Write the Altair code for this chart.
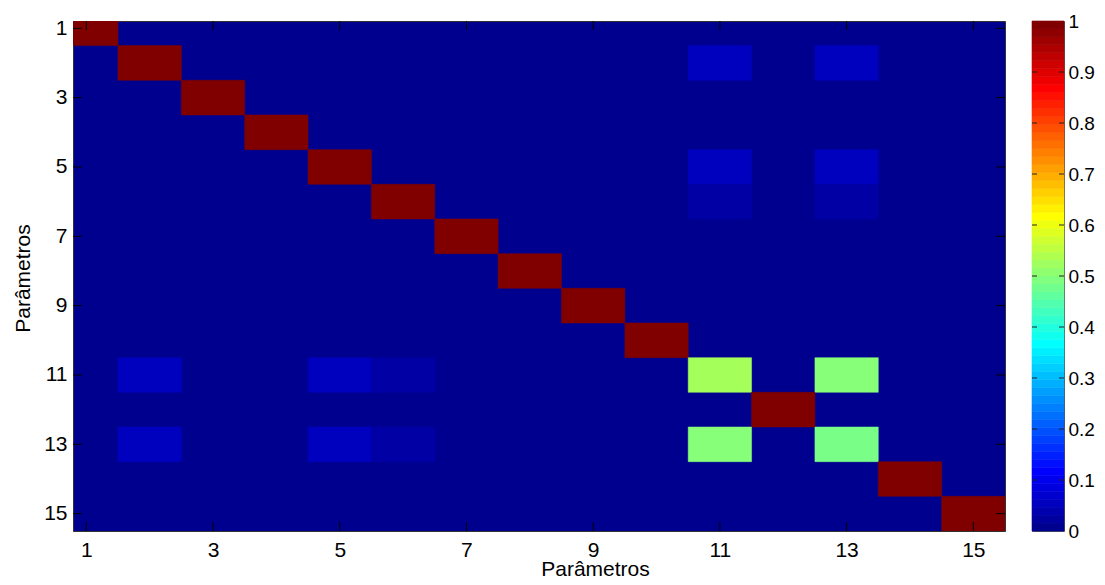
import altair as alt
import numpy as np
import pandas as pd

# ---------------- data ----------------
n_params = 15
tick_vals = [1, 3, 5, 7, 9, 11, 13, 15]
cbar_ticks = [0, 0.1, 0.2, 0.3, 0.4, 0.5, 0.6, 0.7, 0.8, 0.9, 1]
diag_values = [1, 1, 1, 1, 1, 1, 1, 1, 1, 1, 0.53, 1, 0.485, 1, 1]
# symmetric off-diagonal entries (row, col, value)
off_rows = [2, 2, 5, 5, 6, 6, 11]
off_cols = [11, 13, 11, 13, 11, 13, 13]
off_vals = [0.048, 0.048, 0.048, 0.048, 0.022, 0.022, 0.50]

M = np.zeros((n_params, n_params))
for i, d in enumerate(diag_values):
    M[i, i] = d
for r, c, v in zip(off_rows, off_cols, off_vals):
    M[r - 1, c - 1] = v
    M[c - 1, r - 1] = v

rows = []
for i in range(n_params):
    for j in range(n_params):
        rows.append({"row": i + 1, "col": j + 1, "v": float(M[i, j])})
df = pd.DataFrame(rows)
df["x0"] = df["col"] - 0.5
df["x1"] = df["col"] + 0.5
df["y0"] = df["row"] - 0.5
df["y1"] = df["row"] + 0.5
df_nz = df[df["v"] > 0].reset_index(drop=True)   # zero cells = background colour


# ---------------- MATLAB jet(64) palette ----------------
def jet(m=64):
    n = int(np.ceil(m / 4))
    u = np.concatenate([np.arange(1, n + 1) / n, np.ones(n - 1), np.arange(n, 0, -1) / n])
    g = int(np.ceil(n / 2)) - (1 if m % 4 == 1 else 0) + np.arange(1, len(u) + 1)
    r = g + n
    b = g - n
    g = g[g <= m]
    r = r[r <= m]
    b = b[b >= 1]
    J = np.zeros((m, 3))
    J[r - 1, 0] = u[: len(r)]
    J[g - 1, 1] = u[: len(g)]
    J[b - 1, 2] = u[len(u) - len(b):]
    return ["#%02x%02x%02x" % tuple(int(round(c * 255)) for c in row) for row in J]


jet_hex = jet(64)
cdomain = [i / 63 for i in range(64)]
cs = alt.Scale(domain=cdomain, range=jet_hex, interpolate="rgb")

cb = pd.DataFrame({"k": list(range(64))})
cb["lo"] = cb["k"] / 64
cb["hi"] = (cb["k"] + 1) / 64
cb["v"] = cb["k"] / 63

font = "Liberation Sans"
W, H = 932, 510
xs = alt.Scale(domain=[0.79, 15.5], nice=False, zero=False)
ys = alt.Scale(domain=[0.79, 15.5], nice=False, zero=False, reverse=True)

heat = alt.Chart(df_nz).mark_rect(clip=True, strokeWidth=0.5).encode(
    x=alt.X("x0:Q", scale=xs, axis=alt.Axis(
        values=tick_vals, format="d", tickSize=0, labelPadding=8, labelFontSize=21,
        labelFont=font, labelColor="black", grid=False, domain=False,
        title="Parâmetros", titleFont=font, titleFontSize=21, titleFontWeight="normal",
        titleColor="black", titleX=522, titleY=44, titleBaseline="alphabetic",
        titleAlign="center")),
    x2="x1:Q",
    y=alt.Y("y0:Q", scale=ys, axis=alt.Axis(
        values=tick_vals, format="d", tickSize=0, labelPadding=6, labelFontSize=21,
        labelFont=font, labelColor="black", grid=False, domain=False,
        title="Parâmetros", titleFont=font, titleFontSize=21, titleFontWeight="normal",
        titleColor="black", titleX=-44, titleY=257, titleBaseline="alphabetic",
        titleAlign="center", titleAngle=270)),
    y2="y1:Q",
    color=alt.Color("v:Q", scale=cs, legend=None),
    stroke=alt.Stroke("v:Q", scale=cs, legend=None),
)

tdf = pd.DataFrame({"t": tick_vals})
tick_len = 9
bottom_ticks = alt.Chart(tdf).mark_rule(color="black", strokeWidth=1).encode(
    x=alt.X("t:Q", scale=xs), y=alt.value(H), y2=alt.value(H - tick_len))
top_ticks = alt.Chart(tdf).mark_rule(color="black", strokeWidth=1).encode(
    x=alt.X("t:Q", scale=xs), y=alt.value(0), y2=alt.value(tick_len))
left_ticks = alt.Chart(tdf).mark_rule(color="black", strokeWidth=1).encode(
    y=alt.Y("t:Q", scale=ys), x=alt.value(0), x2=alt.value(tick_len))
right_ticks = alt.Chart(tdf).mark_rule(color="black", strokeWidth=1).encode(
    y=alt.Y("t:Q", scale=ys), x=alt.value(W), x2=alt.value(W - tick_len))

main = alt.layer(heat, bottom_ticks, top_ticks, left_ticks, right_ticks).properties(
    width=W, height=H, view=alt.ViewBackground(fill=jet_hex[0], stroke="#333"))

CBW = 32
cys = alt.Scale(domain=[0, 1], nice=False, zero=False)
cbar_rect = alt.Chart(cb).mark_rect(strokeWidth=0.6).encode(
    y=alt.Y("lo:Q", scale=cys, axis=alt.Axis(
        orient="right", values=cbar_ticks, format="~g", tickSize=0, labelPadding=4,
        labelFontSize=19, labelFont=font, labelColor="black", grid=False,
        domain=False, title=None)),
    y2="hi:Q",
    x=alt.value(0), x2=alt.value(CBW),
    color=alt.Color("v:Q", scale=cs, legend=None),
    stroke=alt.Stroke("v:Q", scale=cs, legend=None),
)
cdf = pd.DataFrame({"t": cbar_ticks[1:-1]})
cb_lt = alt.Chart(cdf).mark_rule(color="#222", strokeWidth=1).encode(
    y=alt.Y("t:Q", scale=cys), x=alt.value(0), x2=alt.value(5))
cb_rt = alt.Chart(cdf).mark_rule(color="#222", strokeWidth=1).encode(
    y=alt.Y("t:Q", scale=cys), x=alt.value(CBW), x2=alt.value(CBW - 5))
cbar = alt.layer(cbar_rect, cb_lt, cb_rt).properties(
    width=CBW, height=H, view=alt.ViewBackground(stroke="#555"))

chart = alt.hconcat(main, cbar, spacing=25).resolve_scale(y="independent").properties(
    padding={"left": 3, "top": 3, "right": 0, "bottom": -2},
    background="white",
).configure_view(strokeWidth=1)

chart.save("out.html", embed_options={"renderer": "svg", "actions": False})
